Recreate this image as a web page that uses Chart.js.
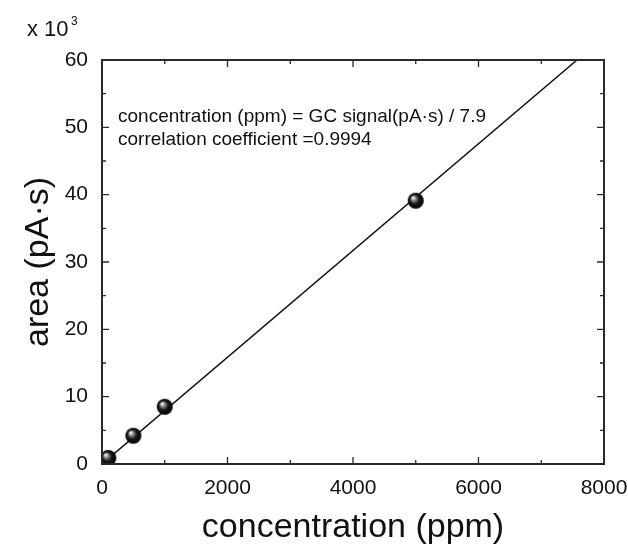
<!DOCTYPE html>
<html>
<head>
<meta charset="utf-8">
<script src="https://cdn.jsdelivr.net/npm/chart.js@4/dist/chart.umd.min.js"></script>
<style>
  html, body { margin: 0; padding: 0; background: #fff; }
  #wrap { width: 628px; height: 548px; position: relative; }
</style>
</head>
<body>
<div id="wrap"><canvas id="cal"></canvas></div>
<script>
// measured calibration points (x: ppm, y: area in 10^3 pA·s)
const concPpm = [100, 500, 1000, 5000];
const areaK = [0.9, 4.2, 8.5, 39.1];

// fitted line end points
const fitX = [0, 7570];
const fitY = [0, 60];

const xTicks = [0, 2000, 4000, 6000, 8000];
const yTicks = [0, 10, 20, 30, 40, 50, 60];

const fontFam = '"Liberation Sans", Arial, sans-serif';

// shiny black ball for the markers
function makeBall(r) {
    const c = document.createElement('canvas');
    c.width = c.height = r * 2 + 2;
    const g = c.getContext('2d');
    const cx = r + 1, cy = r + 1;
    const grad = g.createRadialGradient(cx - r * 0.35, cy - r * 0.4, r * 0.05, cx, cy, r);
    grad.addColorStop(0, '#ffffff');
    grad.addColorStop(0.25, '#8a8a8a');
    grad.addColorStop(0.55, '#1a1a1a');
    grad.addColorStop(1, '#000000');
    g.fillStyle = grad;
    g.beginPath();
    g.arc(cx, cy, r, 0, Math.PI * 2);
    g.fill();
    return c;
}
const ball = makeBall(8);

// box frame + inward ticks on all four sides, plus text labels
const framePlugin = {
    id: 'frame',
    afterDraw(chart) {
        const ctx = chart.ctx;
        const a = chart.chartArea;
        const xs = chart.scales.x, ys = chart.scales.y;
        ctx.save();
        ctx.strokeStyle = '#2a2a2a';
        ctx.lineWidth = 2;
        ctx.strokeRect(a.left, a.top, a.right - a.left, a.bottom - a.top);
        ctx.lineWidth = 1.3;
        for (let v = 0; v <= 8000; v += 1000) {
            const px = xs.getPixelForValue(v);
            const len = v % 2000 === 0 ? 7 : 4;
            ctx.beginPath();
            ctx.moveTo(px, a.bottom); ctx.lineTo(px, a.bottom - len);
            ctx.moveTo(px, a.top); ctx.lineTo(px, a.top + len);
            ctx.stroke();
        }
        for (let v = 0; v <= 60; v += 5) {
            const py = ys.getPixelForValue(v);
            const len = v % 10 === 0 ? 7 : 4;
            ctx.beginPath();
            ctx.moveTo(a.left, py); ctx.lineTo(a.left + len, py);
            ctx.moveTo(a.right, py); ctx.lineTo(a.right - len, py);
            ctx.stroke();
        }
        ctx.fillStyle = '#111';
        ctx.textBaseline = 'alphabetic';
        ctx.font = '19px ' + fontFam;
        ctx.fillText('concentration (ppm) = GC signal(pA·s) / 7.9', a.left + 16, 122);
        ctx.fillText('correlation coefficient =0.9994', a.left + 16, 145);
        ctx.font = '22px ' + fontFam;
        ctx.fillText('x 10', 27, 36);
        ctx.font = '12px ' + fontFam;
        ctx.fillText('3', 71, 25);
        ctx.restore();
    }
};

new Chart(document.getElementById('cal'), {
    type: 'scatter',
    data: {
        datasets: [
            {
                label: 'fit',
                data: fitX.map((x, i) => ({ x: x, y: fitY[i] })),
                showLine: true,
                borderColor: '#111',
                borderWidth: 1.5,
                pointRadius: 0,
                order: 2
            },
            {
                label: 'data',
                data: concPpm.map((x, i) => ({ x: x, y: areaK[i] })),
                pointStyle: ball,
                pointRadius: 8,
                order: 1
            }
        ]
    },
    options: {
        responsive: true,
        maintainAspectRatio: false,
        animation: false,
        layout: { padding: { top: 60, right: 24, left: 0, bottom: 0 } },
        plugins: { legend: { display: false }, tooltip: { enabled: false } },
        scales: {
            x: {
                type: 'linear',
                min: 0, max: 8000,
                afterBuildTicks: s => { s.ticks = xTicks.map(v => ({ value: v })); },
                afterFit: s => { s.height = 84; s.paddingRight = 0; s.paddingLeft = 0; },
                grid: { display: false, drawTicks: false },
                border: { display: false },
                ticks: { color: '#111', font: { size: 21, family: fontFam }, padding: 12, maxRotation: 0, callback: v => String(v) },
                title: { display: true, text: 'concentration (ppm)', color: '#111', font: { size: 34, family: fontFam }, padding: { top: 0, bottom: 0 } }
            },
            y: {
                type: 'linear',
                min: 0, max: 60,
                afterBuildTicks: s => { s.ticks = yTicks.map(v => ({ value: v })); },
                afterFit: s => { s.width = 102; },
                grid: { display: false, drawTicks: false },
                border: { display: false },
                ticks: { color: '#111', font: { size: 21, family: fontFam }, padding: 14, callback: v => String(v) },
                title: { display: true, text: 'area (pA·s)', color: '#111', font: { size: 34, family: fontFam }, padding: { top: 18, bottom: 0 } }
            }
        }
    },
    plugins: [framePlugin]
});
</script>
</body>
</html>
